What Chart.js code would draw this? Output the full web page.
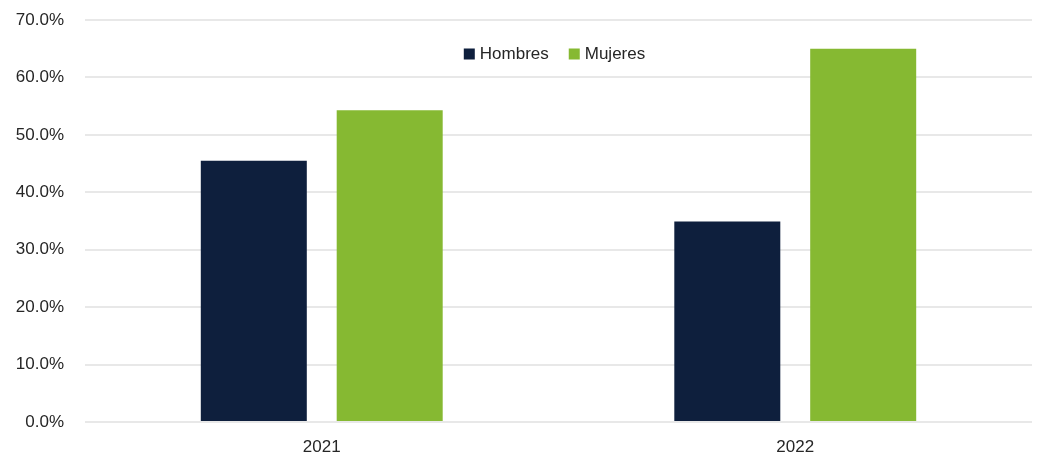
<!DOCTYPE html>
<html lang="es">
  <head>
    <meta charset="UTF-8" />
    <title>Hombres y Mujeres</title>
    <script src="https://cdn.jsdelivr.net/npm/chart.js"></script>
    <style>
      html, body { margin: 0; padding: 0; background: #fff; }
      #wrap { width: 1038px; height: 457px; }
    </style>
  </head>
  <body>
    <div id="wrap"><canvas id="myChart"></canvas></div>
  </body>
  <script>
    // datos
    const years = ["2021", "2022"];
    const hombres = [45.5, 34.9];
    const mujeres = [54.3, 65.0];
    const yTicks = [0, 10, 20, 30, 40, 50, 60, 70];

    const fontFam = "'Liberation Sans Narrow', 'Arial Narrow', 'Liberation Sans', Arial, sans-serif";
    const textColor = "#262626";

    // leyenda dibujada dentro del área del gráfico (arriba, centrada)
    const innerLegend = {
      id: "innerLegend",
      afterDraw(chart) {
        const c = chart.ctx;
        const area = chart.chartArea;
        c.save();
        c.font = "17px " + fontFam;
        c.textBaseline = "middle";
        const items = chart.data.datasets.map((d) => ({
          label: d.label,
          color: d.backgroundColor,
          w: 11 + 5 + c.measureText(d.label).width,
        }));
        const gap = 20;
        const total = items.reduce((s, it) => s + it.w, 0) + gap * (items.length - 1);
        let x = (area.left + area.right) / 2 - 4 - total / 2;
        const y = 54;
        items.forEach((it) => {
          c.fillStyle = it.color;
          c.fillRect(x, y - 5.5, 11, 11);
          c.fillStyle = textColor;
          c.fillText(it.label, x + 16, y);
          x += it.w + gap;
        });
        c.restore();
      },
    };

    const ctx = document.querySelector("#myChart");

    new Chart(ctx, {
      type: "bar",
      data: {
        labels: years,
        datasets: [
          { label: "Hombres", data: hombres, backgroundColor: "#0E1F3D" },
          { label: "Mujeres", data: mujeres, backgroundColor: "#86B932" },
        ],
      },
      options: {
        responsive: true,
        maintainAspectRatio: false,
        animation: false,
        layout: { padding: { top: 20, right: 6, left: 0, bottom: 0 } },
        datasets: {
          bar: { categoryPercentage: 0.574, barPercentage: 0.78 },
        },
        plugins: {
          legend: { display: false },
          tooltip: { enabled: false },
        },
        scales: {
          x: {
            grid: { display: false },
            border: { display: false },
            ticks: {
              color: textColor,
              font: { family: fontFam, size: 17 },
              padding: 7,
            },
            afterFit(scale) {
              scale.height = 35;
              scale.paddingLeft = 0;
              scale.paddingRight = 0;
            },
          },
          y: {
            min: 0,
            max: 70,
            afterBuildTicks(scale) {
              scale.ticks = yTicks.map((v) => ({ value: v }));
            },
            grid: { color: "#e8e8e8", lineWidth: 2, drawTicks: false },
            border: { display: false },
            ticks: {
              color: textColor,
              font: { family: fontFam, size: 17 },
              padding: 21,
              callback: (v) => v.toFixed(1) + "%",
            },
            afterFit(scale) {
              scale.width = 85;
              scale.paddingTop = 0;
              scale.paddingBottom = 0;
            },
          },
        },
      },
      plugins: [innerLegend],
    });
  </script>
</html>
